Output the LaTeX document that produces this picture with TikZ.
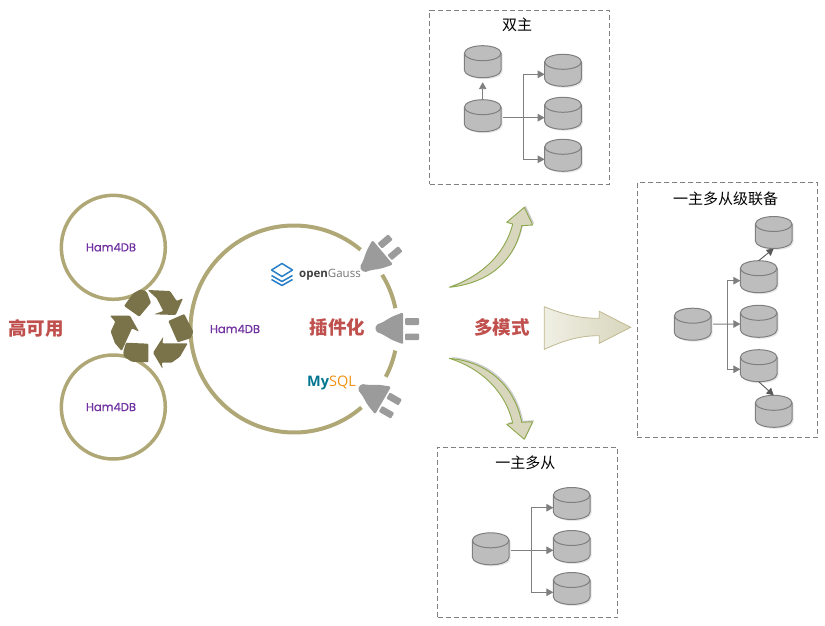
\documentclass[tikz,border=0pt]{standalone}
\usepackage{fontspec}
\usetikzlibrary{shadows,arrows.meta}
\newfontfamily\cjk{Noto Sans CJK SC}
\newfontfamily\hamfont[FakeBold=0.6]{Poppins}
\newfontfamily\logofont{Open Sans}
\definecolor{ringcol}{HTML}{AFA876}
\definecolor{recyclecol}{HTML}{7A7248}
\definecolor{hamcol}{HTML}{7030A0}
\definecolor{redtext}{HTML}{C0504D}
\definecolor{plugcol}{HTML}{9B9B9B}
\definecolor{dbfill}{HTML}{BDBDBD}
\definecolor{dbline}{HTML}{7F7F7F}
\definecolor{arrowfill}{HTML}{D8D6BC}
\definecolor{arrowline}{HTML}{8CA84C}
\definecolor{logoblue}{HTML}{2A7FC9}
\tikzset{
    ring/.style={circle, draw=ringcol, line width=3.5pt, minimum size=104pt, inner sep=0pt, outer sep=0pt},
    hamtext/.style={font=\hamfont\fontsize{11.5}{11.5}\selectfont, text=hamcol, inner sep=0pt},
    redlabel/.style={font=\cjk\bfseries\fontsize{18.5}{18.5}\selectfont, text=redtext, inner sep=0pt},
    boxtitle/.style={font=\cjk\fontsize{15}{15}\selectfont, inner sep=0pt},
    modebox/.style={draw=dbline, line width=0.8pt, dash pattern=on 5pt off 3pt, inner sep=0pt},
    dbnode/.style={minimum width=36.6pt, minimum height=32pt, inner sep=0pt, outer sep=0pt},
    dbarrow/.style={->, draw=dbline, line width=0.9pt},
    casarrow/.style={->, draw=black!65, line width=0.9pt},
    recyclepart/.style={fill=recyclecol, rounded corners=1pt},
    curvearrow/.style={fill=arrowfill, draw=arrowline, line width=0.9pt, line join=round,
        drop shadow={shadow xshift=1.5pt, shadow yshift=1.5pt, opacity=0.4}},
    dbcan/.pic={
        \path[draw=dbline, line width=1pt, fill=dbfill,
            drop shadow={shadow xshift=1.5pt, shadow yshift=-1.5pt, opacity=0.2}]
            (-18.3,8.5) -- (-18.3,-8.5) arc (180:360:18.3 and 7.5) -- (18.3,8.5) arc (0:180:18.3 and 7.5) -- cycle;
        \draw[dbline, line width=1pt] (-18.3,8.5) arc (180:360:18.3 and 7.5);
    },
    plug/.pic={
        \fill[plugcol, rounded corners=2pt] (0,3.5) -- (6,5.5) -- (16,11.5) -- (27.5,16)
            -- (27.5,-16) -- (16,-11.5) -- (6,-5.5) -- (0,-3.5) -- cycle;
        \fill[plugcol, rounded corners=1pt] (29.3,10.3) rectangle (43.3,3.3);
        \fill[plugcol, rounded corners=1pt] (29.3,-5.2) rectangle (43.3,-11.9);
    }
}
\begin{document}
\begin{tikzpicture}[x=1pt, y=1pt, yscale=-1, >={Triangle[length=7pt,width=7.5pt]}]
    \useasboundingbox (0,0) rectangle (825,626);

    \def\Rr{103.5} % raio do anel grande

    % --- Aneis e texto ---
    \node[ring] (ringtop) at (113.3,247.3) {};
    \node[ring] (ringbot) at (113.3,407) {};
    \node[hamtext] (hamtop) at (111,247.3) {Ham4DB};
    \node[hamtext] (hambot) at (111,407) {Ham4DB};
    \node[hamtext] (hammid) at (235,329) {Ham4DB};
    \node[redlabel] (labelha) at (36,328) {高可用};
    \node[redlabel] (labelplug) at (337.3,327.7) {插件化};
    \node[redlabel] (labelmode) at (502,327) {多模式};

    % Anel grande, interrompido nas fichas
    \draw[ringcol, line width=4pt] (294,329) ++(49.3:\Rr) arc (49.3:310:\Rr);
    \draw[ringcol, line width=4pt] (294,329) ++(-31.6:\Rr) arc (-31.6:-11.6:\Rr);
    \draw[ringcol, line width=4pt] (294,329) ++(12:\Rr) arc (12:27.5:\Rr);

    % --- Simbolo de reciclagem ---
    \path[recyclepart] (124,306) -- (133.3,293.3) -- (140.7,289.3) -- (146.7,291.7) -- (151,302.7) -- (139.3,316.7) -- cycle;
    \path[recyclepart] (147.7,290) -- (170,291) -- (176.7,301) -- (183,298.3) -- (175.7,315) -- (154,314.3) -- (163.3,311) -- (156.7,298.3) -- cycle;
    \path[recyclepart] (168.3,321) -- (184.3,314) -- (193.3,331.7) -- (190.7,338.3) -- (177.7,342.3) -- cycle;
    \path[recyclepart] (187.7,343.3) -- (180,356.7) -- (171.7,362.7) -- (161.7,362.7) -- (162.7,369) -- (153,352.7) -- (163.3,336.7) -- (162.3,343.3) -- cycle;
    \path[recyclepart] (126,342.7) -- (148.3,343.7) -- (148.3,362.3) -- (131.7,361.7) -- (124,356.7) -- (123.3,351.7) -- cycle;
    \path[recyclepart] (110,315.7) -- (130,315.7) -- (139,331.7) -- (132,328.3) -- (121.7,351) -- (115,343.3) -- (110.7,331.7) -- (115.3,321.7) -- cycle;

    % --- Fichas ---
    \pic[rotate=40] at (361.7,270) {plug};
    \pic at (375.7,328.3) {plug};
    \pic[rotate=-30] at (359.3,386.7) {plug};

    % --- Logotipos ---
    \draw[logoblue, line width=1.5pt, line join=round]
        (271.5,270) -- (282,263.5) -- (292.5,270) -- (282,276.5) -- cycle
        (271.5,275.5) -- (282,281.5) -- (292.5,275.5)
        (271.5,279.5) -- (282,285.5) -- (292.5,279.5);
    \node[inner sep=0pt, font=\logofont\fontsize{11.5}{11.5}\selectfont] (logogauss) at (330,274.3)
        {\textcolor{black!75}{\bfseries open}\textcolor{black!55}{Gauss}};
    \node[inner sep=0pt, font=\logofont\fontsize{14.5}{14.5}\selectfont] (logomysql) at (331.5,383.3)
        {\textcolor[HTML]{00758F}{\bfseries My}\textcolor[HTML]{F29111}{SQL}};

    % --- Setas curvas ---
    \path[curvearrow] (449.3,287.3) .. controls (480,277) and (505,255) .. (512.7,224)
        -- (506.7,222.3) -- (524.3,207.3) -- (532.7,225) -- (521.7,225.7)
        .. controls (515,260) and (490,283) .. (449.3,287.3) -- cycle;
    \path[curvearrow] (449.3,358.3) .. controls (480,368) and (505,390) .. (512.7,423)
        -- (506.7,424.3) -- (524.3,439.3) -- (532.7,421.7) -- (521.7,422.3)
        .. controls (515,388) and (490,362) .. (449.3,358.3) -- cycle;
    \path[left color=arrowfill!40, right color=arrowfill, draw=ringcol!80, line width=0.8pt]
        (544.3,306.7) .. controls (565,315) and (580,318.3) .. (599.3,318.3)
        -- (599.3,311.3) -- (630.7,327.3) -- (599.3,343.3) -- (599.3,335.7)
        .. controls (580,335.7) and (565,340) .. (544.3,349.3) -- cycle;

    % --- Caixas ---
    \node[modebox, minimum width=179.3pt, minimum height=174.3pt] (boxdual) at (519.35,97.15) {};
    \node[boxtitle] (titledual) at (517,25) {双主};
    \node[modebox, minimum width=180.4pt, minimum height=255pt] (boxcascade) at (727.5,309.8) {};
    \node[boxtitle] (titlecascade) at (725.7,198.7) {一主多从级联备};
    \node[modebox, minimum width=180pt, minimum height=170.7pt] (boxmulti) at (527.7,532.35) {};
    \node[boxtitle] (titlemulti) at (525.3,462.7) {一主多从};

    % --- Bases de dados ---
    \foreach \dbname/\px/\py in {dualup/482.7/61.7, dualmain/482.7/115.7, dualA/563/70.3, dualB/563/113.3, dualC/563/155.3,
        casmain/692.7/324.2, casA/758.7/276.7, casB/758.7/321.3, casC/758.7/365.7, castop/773.7/232.5, casbot/773.7/411.3,
        multimain/490.7/548.8, multiA/571.7/503.5, multiB/571.7/546.5, multiC/571.7/588.5} {
        \node[dbnode] (\dbname) at (\px,\py) {};
        \pic at (\dbname) {dbcan};
    }

    % Ligacoes do bloco superior
    \coordinate (dualjoin) at (523.7,117.7);
    \draw[dbarrow] (dualmain.north) -- ([yshift=4.5pt]dualup.south);
    \draw[dbarrow] ([xshift=2pt,yshift=2pt]dualmain.east) -- ([yshift=4.4pt]dualB.west);
    \draw[dbarrow] (dualjoin) |- ([yshift=4pt]dualA.west);
    \draw[dbarrow] (dualjoin) |- ([yshift=4pt]dualC.west);

    % Ligacoes do bloco da direita
    \coordinate (casjoin) at (727,324);
    \draw[dbarrow] ([xshift=2pt]casmain.east) -- ([yshift=2.7pt]casB.west);
    \draw[dbarrow] (casjoin) |- ([yshift=4pt]casA.west);
    \draw[dbarrow] (casjoin) |- ([yshift=3.6pt]casC.west);
    \draw[casarrow] (casA.north) -- (castop.south);
    \draw[casarrow] (casC.south) -- (casbot.north);

    % Ligacoes do bloco inferior
    \coordinate (multijoin) at (531.3,550.3);
    \draw[dbarrow] ([xshift=2pt,yshift=1.5pt]multimain.east) -- ([yshift=3.8pt]multiB.west);
    \draw[dbarrow] (multijoin) |- ([yshift=4.2pt]multiA.west);
    \draw[dbarrow] (multijoin) |- ([yshift=3.8pt]multiC.west);
\end{tikzpicture}
\end{document}
